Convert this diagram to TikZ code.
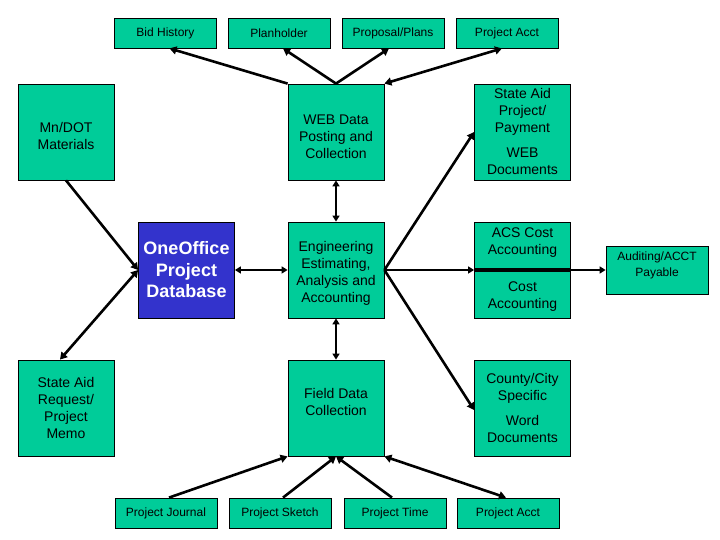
\documentclass[tikz,border=0pt]{standalone}
\usepackage{fontspec}
\setmainfont{Liberation Sans}
\usetikzlibrary{arrows.meta}
\definecolor{boxgreen}{RGB}{0,204,153}
\definecolor{boxblue}{RGB}{51,51,204}
\tikzset{
  box/.style={draw=black, line width=0.8pt, fill=boxgreen, align=center, inner sep=0pt, font=\fontsize{14}{17}\selectfont},
  bigbox/.style={box, minimum width=96pt, minimum height=96pt},
  smallbox/.style={box, minimum width=102pt, minimum height=30pt, font=\fontsize{12}{14}\selectfont},
  dbbox/.style={bigbox, fill=boxblue, text=white, font=\bfseries\fontsize{18}{21.5}\selectfont},
  tipa/.tip={Triangle[length=7pt,width=8pt]},
  tipb/.tip={Triangle[length=6pt,width=7pt]},
  thk/.style={line width=2.6pt},
  med/.style={line width=1.8pt},
}
\begin{document}
\begin{tikzpicture}[x=1pt,y=1pt]
\useasboundingbox (0,0) rectangle (720,540);
% top row
\node[smallbox] (bid)   at (165.5,507) {Bid History};
\node[smallbox] (plan)  at (279,507) {Planholder};
\node[smallbox] (prop)  at (393,507) {Proposal/Plans};
\node[smallbox] (acct1) at (507,507) {Project Acct};
% second row
\node[bigbox] (mndot) at (66,408) {\mbox{}\\[1pt]Mn/DOT\\Materials};
\node[bigbox] (web)   at (336,408) {\mbox{}\\[3pt]WEB Data\\Posting and\\Collection};
\node[bigbox] (sap)   at (522.5,408) {State Aid\\Project/\\Payment\\[8pt]WEB\\Documents};
% middle row
\node[dbbox]  (one) at (186.5,270) {OneOffice\\Project\\Database};
\node[bigbox] (eng) at (336,270) {\mbox{}\\[-1pt]Engineering\\Estimating,\\Analysis and\\Accounting};
\node[bigbox] (acs) at (522.5,270) {ACS Cost\\Accounting\\[20pt]Cost\\Accounting};
\node[box, minimum width=102pt, minimum height=48pt, font=\fontsize{12}{16}\selectfont] (aud) at (657,270) {Auditing/ACCT\\Payable\\[-4pt]};
% fourth row
\node[bigbox] (sar)    at (66,132) {State Aid\\Request/\\Project\\Memo};
\node[bigbox] (field)  at (336,132) {Field Data\\Collection\\[-5pt]};
\node[bigbox] (county) at (522.5,132) {County/City\\Specific\\[8pt]Word\\Documents};
% bottom row
\node[smallbox] (journal) at (166,27) {Project Journal};
\node[smallbox] (sketch)  at (280,27) {Project Sketch};
\node[smallbox] (ptime)   at (395,27) {Project Time};
\node[smallbox] (acct2)   at (508,27) {Project Acct};
% top connectors
\draw[thk,-tipa] (web.north west) -- ([xshift=4pt]bid.south);
\draw[thk,-tipa] (web.north) -- ([xshift=4pt]plan.south);
\draw[thk,-tipa] (web.north) -- ([xshift=-4pt]prop.south);
\draw[thk,tipa-tipa] (web.north east) -- ([xshift=-5pt]acct1.south);
% vertical
\draw[med,tipb-tipb] (web.south) -- (eng.north);
\draw[med,tipb-tipb] (eng.south) -- (field.north);
\draw[med,tipb-tipb] (one.east) -- (eng.west);
% left
\draw[thk,-tipa] (mndot.south) -- (one.west);
\draw[thk,tipa-tipa] (one.west) -- ([xshift=-6pt]sar.north);
% right
\draw[thk,-tipa] (eng.east) -- (sap.west);
\draw[thk,-tipa] (eng.east) -- ([yshift=-2pt]county.west);
\draw[med,-tipb] (eng.east) -- (acs.west);
\draw[line width=4pt] (acs.west) -- (acs.east);
\draw[med,-tipb] (acs.east) -- (aud.west);
% bottom connectors
\draw[thk,-tipa] ([xshift=3pt]journal.north) -- (field.south west);
\draw[thk,-tipa] ([xshift=3pt]sketch.north) -- (field.south);
\draw[thk,-tipa] ([xshift=-3pt]ptime.north) -- (field.south);
\draw[thk,tipa-tipa] ([xshift=-2pt]acct2.north) -- (field.south east);
\end{tikzpicture}
\end{document}
